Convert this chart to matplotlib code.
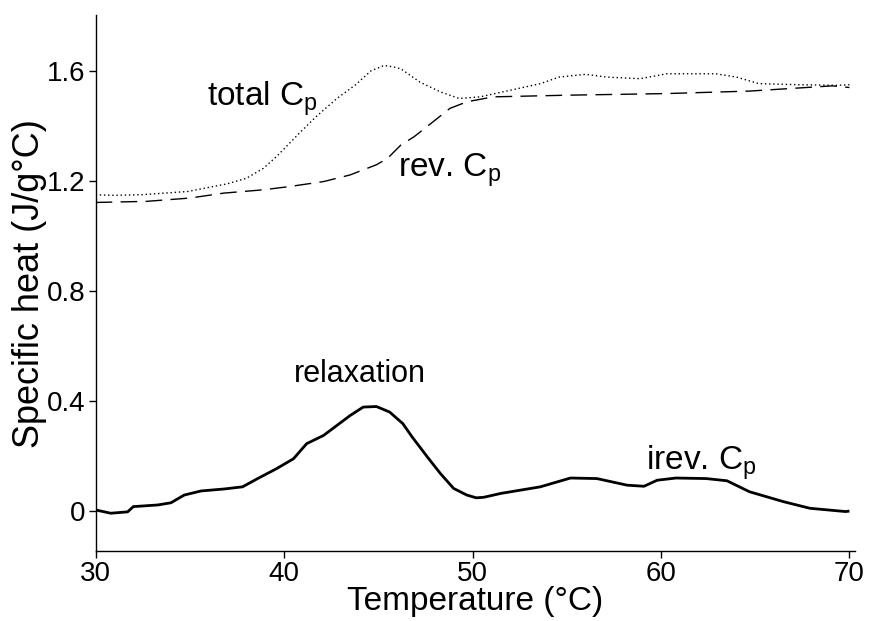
import matplotlib
matplotlib.use("Agg")
import matplotlib.pyplot as plt

# fonts
plt.rcParams['font.family'] = ['Liberation Sans', 'DejaVu Sans']
plt.rcParams['mathtext.fontset'] = 'custom'
plt.rcParams['mathtext.rm'] = 'Liberation Sans'

# total Cp (dotted)
total_T = [30.0, 31.0, 32.4, 34.9, 37.0, 38.0, 38.9, 39.6, 40.9, 41.7, 42.8, 43.8,
           44.6, 45.3, 45.8, 46.2, 47.2, 48.3, 49.3, 50.4, 52.0, 53.6, 54.6, 56.0,
           57.1, 58.9, 60.3, 62.9, 64.0, 65.2, 67.4, 69.3, 70.0]
total_cp = [1.150, 1.148, 1.150, 1.162, 1.190, 1.210, 1.246, 1.289, 1.380, 1.434, 1.500, 1.550,
            1.600, 1.620, 1.615, 1.608, 1.560, 1.524, 1.500, 1.506, 1.530, 1.554, 1.578, 1.588,
            1.578, 1.572, 1.590, 1.590, 1.578, 1.554, 1.550, 1.548, 1.550]

# reversing Cp (dashed)
rev_T = [30.0, 32.7, 35.0, 36.8, 38.9, 40.3, 42.1, 43.5, 44.9, 45.5, 46.2, 46.9,
         47.9, 48.8, 49.7, 51.1, 55.0, 60.3, 64.7, 69.1, 70.0]
rev_cp = [1.122, 1.126, 1.138, 1.156, 1.168, 1.180, 1.198, 1.222, 1.259, 1.283, 1.331, 1.361,
          1.415, 1.464, 1.488, 1.506, 1.512, 1.518, 1.527, 1.546, 1.540]

# irreversing Cp (thick solid)
irev_T = [30.0, 30.8, 31.7, 32.0, 33.3, 34.0, 34.7, 35.6, 36.8, 37.8, 38.6, 39.6,
          40.5, 41.2, 42.1, 42.8, 43.5, 44.2, 44.9, 45.6, 46.3, 46.8, 47.6, 48.3,
          49.0, 49.7, 50.2, 50.6, 51.5, 53.6, 55.2, 56.6, 58.2, 59.1, 59.8, 60.8,
          62.4, 63.5, 64.7, 66.5, 67.9, 69.8, 70.0]
irev_cp = [0.004, -0.008, -0.003, 0.016, 0.022, 0.030, 0.058, 0.073, 0.080, 0.088, 0.118, 0.154,
           0.190, 0.245, 0.275, 0.311, 0.347, 0.378, 0.380, 0.360, 0.318, 0.269, 0.197, 0.136,
           0.082, 0.058, 0.048, 0.050, 0.064, 0.088, 0.120, 0.118, 0.094, 0.090, 0.112, 0.120,
           0.118, 0.110, 0.070, 0.034, 0.010, -0.002, 0.0]

xticks = [30, 40, 50, 60, 70]
yticks = [0, 0.4, 0.8, 1.2, 1.6]
ytick_labels = ['0', '0.4', '0.8', '1.2', '1.6']

fig = plt.figure(figsize=(8.69, 6.21), dpi=100)
ax = fig.add_axes([0.110, 0.112, 0.874, 0.864])

ax.plot(total_T, total_cp, color='black', lw=1.0, linestyle=(0, (1, 2)))
ax.plot(rev_T, rev_cp, color='black', lw=1.0, linestyle=(0, (12, 6)))
ax.plot(irev_T, irev_cp, color='black', lw=2.0, solid_capstyle='butt')

ax.text(35.9, 1.476, r'total C$_{\mathrm{p}}$', fontsize=24)
ax.text(46.05, 1.218, r'rev. C$_{\mathrm{p}}$', fontsize=24)
ax.text(40.5, 0.469, 'relaxation', fontsize=22)
ax.text(59.2, 0.153, r'irev. C$_{\mathrm{p}}$', fontsize=24)

ax.set_xlim(30, 70.3)
ax.set_ylim(-0.147, 1.804)
ax.set_xticks(xticks)
ax.set_yticks(yticks)
ax.set_yticklabels(ytick_labels)
ax.tick_params(direction='out', length=5, width=1, labelsize=20, pad=2)

for s in ['top', 'right']:
    ax.spines[s].set_visible(False)
for s in ['left', 'bottom']:
    ax.spines[s].set_linewidth(1.0)

ax.set_xlabel('Temperature (°C)', fontsize=24, labelpad=-1)
ax.set_ylabel('Specific heat (J/g°C)', fontsize=26, labelpad=0)

fig.savefig('out.png', dpi=100)
